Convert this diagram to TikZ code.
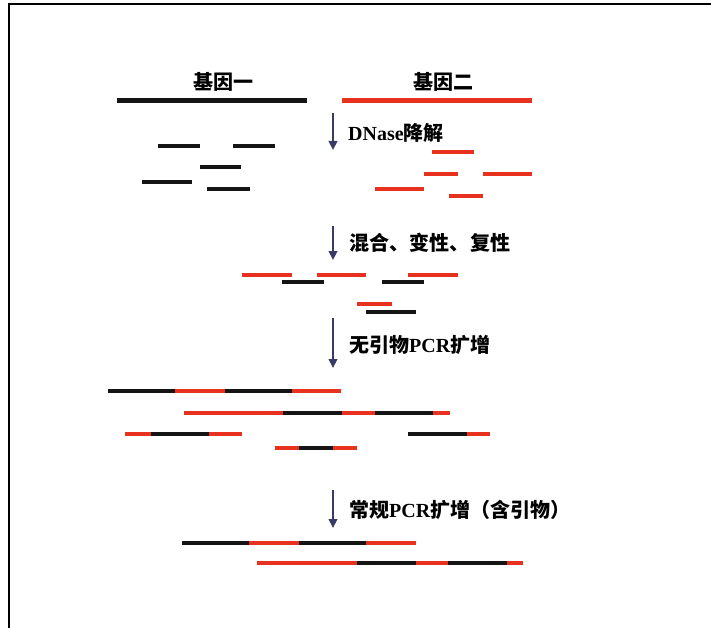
\documentclass[tikz,border=0pt]{standalone}
\usepackage{fontspec}
\setmainfont{Liberation Serif}
\newfontfamily\cjk{Noto Sans CJK SC}
\usetikzlibrary{arrows.meta}
\definecolor{dnared}{HTML}{E8321F}
\definecolor{dnablk}{HTML}{151515}
\definecolor{arrblue}{HTML}{3A3A66}
\newcommand\zh[1]{{\cjk\bfseries #1}}
\begin{document}
\begin{tikzpicture}[x=1pt,y=-1pt,
  lbl/.style={anchor=west, inner sep=0pt, font=\fontsize{20}{23}\selectfont\bfseries},
  ttl/.style={inner sep=0pt, font=\fontsize{20}{23}\selectfont\bfseries},
  bk/.style={draw=dnablk, line width=4.2pt},
  rd/.style={draw=dnared, line width=4.2pt},
  stepar/.style={draw=arrblue, line width=2.6pt, -{Triangle[length=9pt,width=8.5pt]}},
  frame/.style={draw=black, line width=2.8pt}]
\useasboundingbox (0,0) rectangle (711,628);
\fill[white] (0,0) rectangle (711,628);
\draw[frame] (9,628) -- (9,4) -- (711,4);

% titles
\node[ttl] (g1) at (223,82) {\zh{基因一}};
\node[ttl] (g2) at (443,82) {\zh{基因二}};
\draw[draw=dnablk, line width=5pt] (117,101) -- (307,101);
\draw[draw=dnared, line width=5pt] (342,101) -- (532,101);

% step 1
\coordinate (a1s) at (333,113); \coordinate (a1e) at (333,150);
\draw[stepar] (a1s) -- (a1e);
\node[lbl] (t1) at (348,133) {DNase\zh{降解}};
\draw[bk] (158,146) -- (200,146);
\draw[bk] (233,146) -- (275,146);
\draw[bk] (200,167) -- (241,167);
\draw[bk] (142,182) -- (192,182);
\draw[bk] (207,189) -- (250,189);
\draw[rd] (432,152) -- (474,152);
\draw[rd] (424,174) -- (458,174);
\draw[rd] (483,174) -- (532,174);
\draw[rd] (375,189) -- (424,189);
\draw[rd] (449,196) -- (483,196);

% step 2
\coordinate (a2s) at (333,226); \coordinate (a2e) at (333,260);
\draw[stepar] (a2s) -- (a2e);
\node[lbl] (t2) at (349,243) {\zh{混合、\hspace{0.5pt}变性、\hspace{0.5pt}复性}};
\draw[rd] (242,275) -- (292,275);
\draw[bk] (282,282) -- (324,282);
\draw[rd] (317,275) -- (366,275);
\draw[bk] (382,282) -- (424,282);
\draw[rd] (408,275) -- (458,275);
\draw[rd] (357,304) -- (392,304);
\draw[bk] (366,312) -- (416,312);

% step 3
\coordinate (a3s) at (333,318); \coordinate (a3e) at (333,368);
\draw[stepar] (a3s) -- (a3e);
\node[lbl] (t3) at (349,345) {\zh{无引物}PCR\zh{扩增}};
\draw[bk] (108,391) -- (175,391);
\draw[rd] (175,391) -- (225,391);
\draw[bk] (225,391) -- (292,391);
\draw[rd] (292,391) -- (341,391);
\draw[rd] (184,413) -- (283,413);
\draw[bk] (283,413) -- (342,413);
\draw[rd] (342,413) -- (375,413);
\draw[bk] (375,413) -- (433,413);
\draw[rd] (433,413) -- (450,413);
\draw[rd] (125,434) -- (151,434);
\draw[bk] (151,434) -- (209,434);
\draw[rd] (209,434) -- (242,434);
\draw[bk] (408,434) -- (467,434);
\draw[rd] (467,434) -- (490,434);
\draw[rd] (275,448) -- (299,448);
\draw[bk] (299,448) -- (333,448);
\draw[rd] (333,448) -- (357,448);

% step 4
\coordinate (a4s) at (333,490); \coordinate (a4e) at (333,528);
\draw[stepar] (a4s) -- (a4e);
\node[lbl] (t4) at (349,510) {\zh{常规}PCR\zh{扩增（含引物）}};
\draw[bk] (182,543) -- (249,543);
\draw[rd] (249,543) -- (299,543);
\draw[bk] (299,543) -- (366,543);
\draw[rd] (366,543) -- (416,543);
\draw[rd] (257,563) -- (357,563);
\draw[bk] (357,563) -- (416,563);
\draw[rd] (416,563) -- (448,563);
\draw[bk] (448,563) -- (507,563);
\draw[rd] (507,563) -- (523,563);
\end{tikzpicture}
\end{document}
